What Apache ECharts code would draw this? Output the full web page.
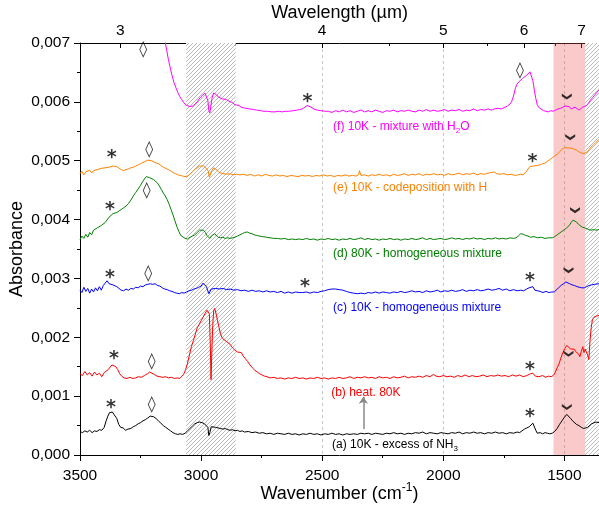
<!DOCTYPE html>
<html><head><meta charset="utf-8">
<script src="https://cdn.jsdelivr.net/npm/echarts@6/dist/echarts.min.js"></script>
<style>html,body{margin:0;padding:0;background:#fff}#c{width:599px;height:505px}</style>
</head><body><div id="c"></div>
<script>
// ---------- DATA (absorbance in units of 10^-3) ----------
const wnTicks = [3500, 3000, 2500, 2000, 1500];
const wnMinorTicks = [3250, 2750, 2250, 1750];
const wavelengthTicks = [3, 4, 5, 6, 7];          // µm
const wavelengthMinorTicks = [3.5, 4.5, 5.5, 6.5]; // µm
const yTicks = [0, 1, 2, 3, 4, 5, 6, 7];

const specA = [[3500,0.40],[3490,0.38],[3480,0.41],[3470,0.39],[3460,0.42],[3450,0.38],[3440,0.41],[3430,0.40],[3420,0.43],[3410,0.42],[3400,0.47],[3392,0.58],[3385,0.66],[3378,0.72],[3372,0.70],[3366,0.73],[3360,0.69],[3354,0.71],[3348,0.62],[3340,0.52],[3332,0.47],[3322,0.46],[3312,0.42],[3302,0.44],[3290,0.45],[3280,0.48],[3270,0.50],[3260,0.53],[3250,0.55],[3240,0.58],[3230,0.60],[3220,0.63],[3210,0.66],[3204,0.68],[3196,0.65],[3186,0.62],[3176,0.58],[3166,0.54],[3156,0.50],[3146,0.47],[3136,0.44],[3126,0.41],[3116,0.38],[3106,0.36],[3096,0.35],[3086,0.36],[3076,0.35],[3066,0.37],[3056,0.41],[3046,0.45],[3036,0.49],[3026,0.53],[3016,0.55],[3006,0.56],[2996,0.55],[2986,0.53],[2978,0.51],[2972,0.47],[2968,0.33],[2964,0.38],[2958,0.48],[2950,0.50],[2940,0.47],[2930,0.46],[2920,0.45],[2910,0.44],[2900,0.45],[2890,0.43],[2880,0.42],[2870,0.43],[2860,0.41],[2850,0.42],[2840,0.40],[2830,0.41],[2820,0.39],[2805,0.40],[2790,0.38],[2775,0.39],[2760,0.37],[2745,0.38],[2730,0.36],[2715,0.37],[2700,0.35],[2685,0.37],[2670,0.36],[2655,0.35],[2640,0.37],[2625,0.35],[2610,0.36],[2595,0.34],[2580,0.36],[2565,0.35],[2550,0.37],[2535,0.35],[2520,0.36],[2505,0.34],[2490,0.36],[2475,0.35],[2460,0.37],[2445,0.35],[2430,0.36],[2415,0.34],[2400,0.36],[2385,0.35],[2370,0.36],[2355,0.35],[2340,0.37],[2325,0.36],[2310,0.37],[2295,0.35],[2280,0.37],[2265,0.36],[2250,0.35],[2235,0.37],[2220,0.36],[2205,0.38],[2190,0.36],[2175,0.37],[2160,0.35],[2145,0.37],[2130,0.36],[2115,0.38],[2100,0.37],[2085,0.39],[2070,0.36],[2055,0.38],[2040,0.37],[2025,0.36],[2010,0.38],[1995,0.37],[1980,0.36],[1965,0.38],[1950,0.37],[1935,0.39],[1920,0.36],[1905,0.38],[1890,0.37],[1875,0.39],[1860,0.37],[1845,0.38],[1830,0.36],[1815,0.38],[1800,0.37],[1785,0.39],[1770,0.37],[1755,0.38],[1740,0.36],[1725,0.38],[1710,0.37],[1695,0.39],[1685,0.38],[1675,0.41],[1665,0.44],[1655,0.46],[1645,0.48],[1637,0.50],[1630,0.54],[1624,0.52],[1618,0.42],[1612,0.37],[1600,0.38],[1590,0.36],[1580,0.38],[1570,0.37],[1560,0.36],[1550,0.37],[1540,0.40],[1530,0.45],[1520,0.52],[1510,0.58],[1500,0.64],[1490,0.69],[1482,0.67],[1474,0.62],[1466,0.58],[1458,0.55],[1450,0.52],[1440,0.50],[1430,0.47],[1420,0.45],[1412,0.44],[1404,0.47],[1396,0.50],[1388,0.53],[1380,0.55],[1370,0.56],[1357,0.55]];

const specB = [[3500,1.38],[3490,1.35],[3480,1.42],[3470,1.36],[3460,1.40],[3450,1.34],[3440,1.41],[3430,1.36],[3420,1.39],[3410,1.33],[3400,1.40],[3392,1.37],[3384,1.45],[3376,1.48],[3368,1.53],[3360,1.55],[3352,1.50],[3344,1.45],[3336,1.38],[3328,1.34],[3318,1.31],[3306,1.30],[3294,1.32],[3282,1.30],[3270,1.31],[3258,1.33],[3246,1.32],[3234,1.35],[3222,1.38],[3212,1.41],[3204,1.40],[3194,1.37],[3182,1.34],[3170,1.33],[3158,1.32],[3146,1.33],[3134,1.31],[3122,1.32],[3110,1.30],[3098,1.31],[3088,1.30],[3080,1.33],[3072,1.37],[3064,1.45],[3056,1.56],[3048,1.70],[3040,1.84],[3032,1.94],[3024,2.05],[3016,2.16],[3008,2.22],[3000,2.28],[2992,2.34],[2984,2.40],[2976,2.46],[2970,2.49],[2966,2.40],[2962,1.90],[2959,1.28],[2956,1.70],[2952,2.20],[2948,2.45],[2944,2.49],[2938,2.40],[2932,2.28],[2926,2.17],[2920,2.06],[2912,1.98],[2904,1.95],[2896,1.93],[2888,1.91],[2880,1.88],[2870,1.82],[2860,1.78],[2850,1.75],[2842,1.76],[2834,1.74],[2826,1.68],[2818,1.64],[2808,1.59],[2798,1.53],[2788,1.48],[2778,1.44],[2768,1.41],[2758,1.38],[2748,1.36],[2738,1.34],[2728,1.33],[2715,1.31],[2700,1.32],[2685,1.30],[2670,1.31],[2655,1.29],[2640,1.31],[2625,1.30],[2610,1.32],[2595,1.30],[2580,1.31],[2565,1.29],[2550,1.31],[2535,1.30],[2520,1.32],[2505,1.30],[2490,1.31],[2475,1.29],[2460,1.31],[2445,1.30],[2430,1.32],[2415,1.30],[2400,1.31],[2385,1.33],[2370,1.30],[2355,1.32],[2340,1.31],[2325,1.33],[2310,1.31],[2295,1.32],[2280,1.30],[2265,1.33],[2250,1.31],[2235,1.32],[2220,1.30],[2205,1.33],[2190,1.31],[2175,1.32],[2160,1.34],[2145,1.31],[2130,1.33],[2115,1.32],[2100,1.34],[2085,1.32],[2070,1.35],[2055,1.33],[2040,1.37],[2030,1.34],[2015,1.33],[2000,1.35],[1985,1.33],[1970,1.34],[1955,1.32],[1940,1.35],[1925,1.33],[1910,1.36],[1895,1.33],[1880,1.35],[1865,1.33],[1850,1.34],[1835,1.36],[1820,1.33],[1805,1.35],[1790,1.34],[1775,1.36],[1760,1.34],[1745,1.35],[1730,1.33],[1715,1.36],[1700,1.34],[1685,1.36],[1670,1.33],[1655,1.35],[1640,1.38],[1630,1.39],[1620,1.34],[1605,1.33],[1590,1.35],[1578,1.32],[1566,1.34],[1555,1.33],[1546,1.35],[1538,1.40],[1530,1.48],[1522,1.55],[1514,1.65],[1506,1.74],[1498,1.81],[1490,1.86],[1482,1.88],[1474,1.80],[1466,1.77],[1460,1.80],[1454,1.76],[1448,1.79],[1442,1.72],[1436,1.67],[1430,1.76],[1424,1.84],[1419,1.74],[1414,1.80],[1408,1.78],[1404,1.70],[1399,1.62],[1394,1.95],[1389,2.17],[1384,2.30],[1378,2.34],[1368,2.36],[1357,2.37]];

const specC = [[3500,2.80],[3492,2.76],[3484,2.85],[3476,2.78],[3468,2.83],[3460,2.75],[3452,2.82],[3444,2.77],[3436,2.84],[3428,2.79],[3420,2.86],[3412,2.80],[3404,2.88],[3396,2.90],[3388,2.96],[3380,2.91],[3372,2.93],[3364,2.89],[3356,2.92],[3348,2.86],[3340,2.83],[3330,2.80],[3320,2.79],[3310,2.82],[3300,2.80],[3290,2.83],[3280,2.82],[3270,2.85],[3260,2.84],[3250,2.87],[3240,2.86],[3230,2.89],[3220,2.90],[3210,2.91],[3200,2.90],[3190,2.91],[3180,2.88],[3170,2.87],[3160,2.84],[3150,2.82],[3140,2.81],[3130,2.79],[3120,2.78],[3110,2.76],[3100,2.75],[3090,2.74],[3080,2.76],[3070,2.75],[3060,2.77],[3050,2.79],[3040,2.80],[3030,2.82],[3020,2.83],[3010,2.85],[3000,2.87],[2992,2.92],[2986,2.90],[2978,2.86],[2972,2.84],[2968,2.74],[2964,2.73],[2958,2.82],[2950,2.84],[2940,2.83],[2925,2.82],[2910,2.83],[2895,2.81],[2880,2.82],[2865,2.80],[2850,2.81],[2835,2.79],[2820,2.80],[2805,2.78],[2790,2.80],[2775,2.78],[2760,2.79],[2745,2.77],[2730,2.79],[2715,2.77],[2700,2.78],[2685,2.76],[2670,2.78],[2655,2.75],[2640,2.77],[2625,2.75],[2610,2.77],[2595,2.76],[2580,2.76],[2565,2.77],[2550,2.75],[2535,2.77],[2520,2.76],[2505,2.78],[2490,2.79],[2475,2.81],[2460,2.82],[2445,2.82],[2430,2.81],[2415,2.80],[2400,2.78],[2385,2.76],[2370,2.75],[2355,2.74],[2340,2.75],[2325,2.74],[2310,2.76],[2295,2.75],[2280,2.77],[2265,2.75],[2250,2.77],[2235,2.76],[2220,2.75],[2205,2.77],[2190,2.76],[2175,2.78],[2160,2.76],[2145,2.77],[2130,2.79],[2115,2.77],[2100,2.78],[2085,2.76],[2070,2.79],[2055,2.77],[2040,2.78],[2025,2.80],[2010,2.77],[1995,2.79],[1980,2.78],[1965,2.80],[1950,2.78],[1935,2.79],[1920,2.81],[1905,2.78],[1890,2.80],[1875,2.79],[1860,2.81],[1845,2.79],[1830,2.80],[1815,2.82],[1800,2.80],[1785,2.81],[1770,2.83],[1755,2.80],[1740,2.82],[1725,2.79],[1710,2.81],[1695,2.79],[1680,2.80],[1668,2.79],[1656,2.82],[1646,2.84],[1638,2.87],[1630,2.86],[1622,2.80],[1614,2.77],[1600,2.78],[1588,2.76],[1576,2.78],[1564,2.76],[1552,2.77],[1542,2.77],[1534,2.80],[1524,2.84],[1514,2.88],[1504,2.91],[1494,2.94],[1486,2.93],[1478,2.91],[1468,2.89],[1458,2.88],[1448,2.86],[1438,2.85],[1428,2.84],[1418,2.84],[1408,2.86],[1398,2.88],[1388,2.89],[1376,2.90],[1357,2.91]];

const specD = [[3500,3.66],[3492,3.72],[3484,3.68],[3476,3.75],[3468,3.70],[3460,3.78],[3452,3.74],[3444,3.82],[3436,3.79],[3428,3.86],[3420,3.84],[3412,3.90],[3404,3.88],[3396,3.95],[3388,3.98],[3380,4.04],[3372,4.06],[3364,4.10],[3356,4.08],[3348,4.12],[3340,4.14],[3330,4.17],[3320,4.20],[3310,4.23],[3300,4.27],[3290,4.33],[3280,4.40],[3270,4.46],[3260,4.52],[3250,4.58],[3242,4.64],[3234,4.69],[3226,4.73],[3220,4.74],[3212,4.71],[3204,4.69],[3196,4.68],[3188,4.66],[3180,4.62],[3172,4.57],[3164,4.51],[3156,4.45],[3148,4.40],[3140,4.34],[3132,4.26],[3124,4.17],[3116,4.08],[3108,3.98],[3100,3.88],[3092,3.80],[3084,3.73],[3076,3.70],[3066,3.68],[3056,3.67],[3046,3.70],[3036,3.72],[3026,3.74],[3016,3.78],[3006,3.82],[2998,3.83],[2990,3.82],[2982,3.78],[2976,3.73],[2970,3.70],[2964,3.68],[2958,3.72],[2950,3.74],[2944,3.76],[2938,3.73],[2930,3.70],[2920,3.69],[2910,3.70],[2900,3.68],[2890,3.69],[2880,3.68],[2870,3.69],[2860,3.70],[2850,3.72],[2840,3.74],[2830,3.76],[2820,3.78],[2810,3.79],[2800,3.77],[2790,3.76],[2780,3.74],[2770,3.73],[2760,3.72],[2745,3.71],[2730,3.70],[2715,3.69],[2700,3.68],[2685,3.68],[2670,3.67],[2655,3.68],[2640,3.66],[2625,3.67],[2610,3.66],[2595,3.67],[2580,3.66],[2565,3.68],[2550,3.66],[2535,3.67],[2520,3.65],[2505,3.67],[2490,3.66],[2475,3.68],[2460,3.66],[2445,3.67],[2430,3.65],[2415,3.67],[2400,3.66],[2385,3.68],[2370,3.66],[2355,3.67],[2340,3.69],[2325,3.66],[2310,3.68],[2295,3.66],[2280,3.67],[2265,3.65],[2250,3.67],[2235,3.66],[2220,3.68],[2205,3.66],[2190,3.67],[2175,3.65],[2160,3.67],[2145,3.66],[2130,3.68],[2115,3.66],[2100,3.67],[2085,3.69],[2070,3.66],[2055,3.68],[2040,3.66],[2025,3.67],[2010,3.68],[1995,3.66],[1980,3.67],[1965,3.69],[1950,3.67],[1935,3.68],[1920,3.66],[1905,3.68],[1890,3.67],[1875,3.69],[1860,3.67],[1845,3.68],[1830,3.66],[1815,3.68],[1800,3.67],[1785,3.69],[1770,3.67],[1755,3.68],[1740,3.67],[1725,3.69],[1710,3.68],[1700,3.69],[1690,3.72],[1680,3.76],[1670,3.75],[1660,3.73],[1650,3.72],[1640,3.70],[1625,3.71],[1610,3.69],[1595,3.70],[1580,3.68],[1565,3.69],[1550,3.69],[1540,3.71],[1530,3.74],[1520,3.77],[1510,3.80],[1500,3.83],[1490,3.86],[1480,3.90],[1472,3.95],[1464,3.99],[1458,4.00],[1450,3.96],[1442,3.92],[1434,3.89],[1426,3.87],[1418,3.86],[1410,3.85],[1400,3.83],[1390,3.82],[1380,3.83],[1370,3.82],[1357,3.83]];

const specE = [[3500,4.78],[3492,4.82],[3484,4.76],[3476,4.81],[3468,4.78],[3460,4.84],[3452,4.79],[3444,4.83],[3436,4.80],[3428,4.85],[3420,4.83],[3412,4.87],[3404,4.85],[3396,4.88],[3388,4.90],[3380,4.89],[3372,4.92],[3364,4.91],[3356,4.92],[3348,4.90],[3340,4.87],[3330,4.85],[3320,4.83],[3310,4.85],[3300,4.86],[3290,4.88],[3280,4.89],[3270,4.91],[3260,4.93],[3250,4.95],[3240,4.97],[3230,4.99],[3220,5.01],[3212,5.02],[3204,5.00],[3196,4.98],[3186,4.96],[3176,4.95],[3166,4.92],[3156,4.89],[3146,4.87],[3136,4.85],[3126,4.83],[3116,4.80],[3106,4.78],[3096,4.76],[3086,4.75],[3076,4.74],[3066,4.73],[3056,4.74],[3046,4.77],[3036,4.81],[3026,4.85],[3016,4.88],[3006,4.91],[2998,4.92],[2990,4.91],[2982,4.88],[2976,4.86],[2970,4.82],[2966,4.72],[2962,4.75],[2956,4.83],[2948,4.88],[2942,4.89],[2934,4.84],[2926,4.80],[2918,4.79],[2908,4.78],[2896,4.77],[2882,4.78],[2868,4.76],[2854,4.77],[2840,4.76],[2825,4.77],[2810,4.75],[2795,4.77],[2780,4.74],[2765,4.76],[2750,4.74],[2735,4.77],[2720,4.75],[2705,4.74],[2690,4.76],[2675,4.74],[2660,4.75],[2645,4.73],[2630,4.75],[2615,4.74],[2600,4.73],[2585,4.75],[2570,4.74],[2555,4.75],[2540,4.73],[2525,4.75],[2510,4.74],[2495,4.76],[2480,4.74],[2465,4.75],[2450,4.73],[2435,4.75],[2420,4.74],[2405,4.76],[2390,4.74],[2375,4.75],[2360,4.74],[2350,4.76],[2346,4.83],[2340,4.75],[2325,4.76],[2310,4.74],[2295,4.76],[2280,4.75],[2265,4.77],[2250,4.75],[2235,4.76],[2220,4.74],[2205,4.77],[2190,4.75],[2175,4.76],[2160,4.78],[2145,4.75],[2130,4.77],[2115,4.76],[2100,4.78],[2085,4.75],[2070,4.77],[2055,4.76],[2040,4.78],[2025,4.76],[2010,4.77],[1995,4.75],[1980,4.78],[1965,4.76],[1950,4.77],[1935,4.79],[1920,4.76],[1905,4.78],[1890,4.77],[1875,4.79],[1860,4.76],[1845,4.78],[1830,4.77],[1815,4.79],[1800,4.80],[1790,4.81],[1780,4.78],[1765,4.77],[1750,4.78],[1735,4.76],[1720,4.77],[1705,4.75],[1690,4.76],[1680,4.77],[1670,4.76],[1660,4.80],[1650,4.86],[1642,4.90],[1635,4.89],[1628,4.91],[1620,4.90],[1610,4.92],[1600,4.93],[1590,4.95],[1580,4.96],[1570,4.99],[1560,5.02],[1550,5.05],[1540,5.08],[1530,5.11],[1520,5.15],[1510,5.19],[1500,5.22],[1492,5.23],[1484,5.22],[1476,5.20],[1468,5.21],[1460,5.19],[1450,5.18],[1440,5.15],[1430,5.13],[1420,5.12],[1414,5.10],[1406,5.15],[1398,5.19],[1390,5.23],[1380,5.27],[1370,5.31],[1357,5.36]];

const specF = [[3160,7.30],[3150,7.05],[3142,6.88],[3135,6.72],[3128,6.59],[3120,6.45],[3112,6.33],[3104,6.24],[3096,6.16],[3088,6.09],[3080,6.04],[3072,5.99],[3064,5.95],[3056,5.92],[3048,5.92],[3040,5.93],[3032,5.93],[3024,5.96],[3016,6.00],[3008,6.05],[3000,6.09],[2992,6.12],[2984,6.15],[2978,6.12],[2972,6.02],[2968,5.85],[2964,5.81],[2960,5.92],[2954,6.08],[2948,6.15],[2942,6.17],[2936,6.12],[2928,6.08],[2920,6.06],[2912,6.05],[2904,6.03],[2896,6.04],[2888,6.01],[2880,6.00],[2870,5.99],[2860,5.95],[2852,5.93],[2844,5.94],[2835,5.91],[2825,5.90],[2815,5.89],[2800,5.88],[2785,5.87],[2770,5.86],[2755,5.85],[2740,5.84],[2725,5.84],[2710,5.83],[2695,5.83],[2680,5.84],[2665,5.83],[2650,5.84],[2635,5.84],[2620,5.85],[2605,5.86],[2590,5.87],[2578,5.89],[2570,5.92],[2562,5.94],[2554,5.93],[2546,5.91],[2538,5.89],[2530,5.87],[2520,5.86],[2505,5.85],[2490,5.84],[2475,5.84],[2460,5.82],[2445,5.85],[2430,5.83],[2415,5.86],[2400,5.83],[2385,5.85],[2370,5.82],[2355,5.84],[2340,5.86],[2325,5.83],[2310,5.85],[2295,5.83],[2280,5.86],[2265,5.84],[2250,5.82],[2235,5.85],[2220,5.84],[2205,5.86],[2190,5.83],[2175,5.85],[2160,5.84],[2145,5.86],[2130,5.84],[2115,5.83],[2100,5.86],[2085,5.84],[2070,5.87],[2055,5.84],[2040,5.86],[2025,5.84],[2010,5.85],[1995,5.87],[1980,5.84],[1965,5.86],[1950,5.85],[1935,5.87],[1920,5.84],[1905,5.86],[1890,5.85],[1875,5.88],[1860,5.85],[1845,5.87],[1830,5.86],[1815,5.88],[1800,5.86],[1790,5.88],[1775,5.89],[1760,5.88],[1745,5.91],[1735,5.93],[1725,5.96],[1718,6.00],[1710,6.10],[1703,6.22],[1696,6.30],[1688,6.34],[1680,6.37],[1672,6.40],[1664,6.43],[1656,6.45],[1648,6.48],[1642,6.51],[1636,6.48],[1630,6.36],[1624,6.20],[1618,6.06],[1612,5.95],[1604,5.90],[1596,5.87],[1586,5.85],[1576,5.84],[1566,5.83],[1556,5.85],[1546,5.84],[1536,5.86],[1526,5.88],[1516,5.89],[1506,5.91],[1496,5.93],[1488,5.96],[1480,5.92],[1472,5.88],[1464,5.90],[1456,5.91],[1448,5.89],[1440,5.86],[1432,5.89],[1424,5.91],[1416,5.90],[1408,5.94],[1400,5.98],[1392,6.03],[1384,6.07],[1376,6.11],[1366,6.16],[1357,6.20]];

// curve labels: [wavenumber, absorbance(10^-3)] of the label's left-middle point
const curveLabels = [
  {text: '(f) 10K - mixture with H{sub|2}O', pos: [2455, 5.57], color: '#FF00FF'},
  {text: '(e) 10K - codeposition with H',   pos: [2455, 4.545], color: '#FF8000'},
  {text: '(d) 80K - homogeneous mixture',   pos: [2455, 3.42], color: '#008000'},
  {text: '(c) 10K - homogeneous mixture',   pos: [2455, 2.51], color: '#0000FF'},
  {text: '(b) heat. 80K',                   pos: [2463, 1.065], color: '#FF0000'},
  {text: '(a) 10K - excess of NH{sub|3}',   pos: [2459, 0.18], color: '#000000'}
];
const starMarks = [[3372,0.845],[1642,0.70],[3360,1.68],[1642,1.50],[3376,3.05],[2571,2.91],[1642,3.00],[3376,4.21],[3369,5.09],[1632,5.02],[2561,6.04]];
const diamondMarks = [[3204,0.845],[3204,1.58],[3218,3.07],[3225,4.49],[3214,5.19],[3239,6.89],[1683,6.52]];
const chevronMarks = [[1490,0.815],[1483,1.72],[1483,3.14],[1456,4.16],[1476,5.40],[1490,6.09]];
const arrowFromTo = [[2330, 0.44], [2330, 0.99]];
const hatchRegions = [[3062, 2857], [1414, 1357]];
const pinkRegion = [1545, 1414];
const xMin = 1357, xMax = 3500;

// ---------- CHART ----------
function hatchPattern() {
  const s = 4;
  const c = document.createElement('canvas'); c.width = s; c.height = s;
  const g = c.getContext('2d');
  g.fillStyle = '#fff'; g.fillRect(0, 0, s, s);
  g.strokeStyle = '#a8a8a8'; g.lineWidth = 0.8;
  g.beginPath();
  g.moveTo(0, s); g.lineTo(s, 0);
  g.moveTo(-1, 1); g.lineTo(1, -1);
  g.moveTo(s - 1, s + 1); g.lineTo(s + 1, s - 1);
  g.stroke();
  return c;
}
const FONT = 'Liberation Sans';
const chart = echarts.init(document.getElementById('c'), null, {renderer: 'canvas'});
function lineSeries(name, data, color, label, extra) {
  return Object.assign({
    name, type: 'line', data, xAxisIndex: 0, yAxisIndex: 0,
    showSymbol: false, symbol: 'none', clip: true, z: 3,
    lineStyle: {color, width: 1},
    markPoint: {
      silent: true, symbol: 'circle', symbolSize: 0,
      data: [{coord: label.pos, value: 0}],
      label: {
        show: true, position: 'right', distance: 0, formatter: label.text,
        color: label.color, fontSize: 12, fontFamily: FONT, lineHeight: 16,
        rich: {sub: {fontSize: 8, lineHeight: 8, verticalAlign: 'bottom', color: label.color, fontFamily: FONT}}
      }
    }
  }, extra || {});
}
const hatch = hatchPattern();
const option = {
  animation: false,
  backgroundColor: '#fff',
  textStyle: {fontFamily: FONT},
  grid: {left: 80, right: 0, top: 43, bottom: 50, containLabel: false, outerBoundsMode: 'none'},
  xAxis: [
    {
      type: 'value', position: 'bottom', min: xMin, max: xMax, inverse: true,
      axisLine: {show: true, lineStyle: {color: '#000'}},
      axisTick: {show: true, customValues: wnTicks, length: 6, lineStyle: {color: '#000'}},
      axisLabel: {customValues: wnTicks, formatter: v => String(v), fontSize: 15.5, color: '#000', margin: 13, fontFamily: FONT},
      splitLine: {show: true, lineStyle: {color: '#c8c8c8', type: [3, 3], width: 1}},
      name: 'Wavenumber (cm{sup|-1})', nameLocation: 'middle', nameGap: 27, nameMoveOverlap: false,
      nameTextStyle: {fontSize: 18, color: '#000', fontFamily: FONT, lineHeight: 24,
        rich: {sup: {fontSize: 12, lineHeight: 16, verticalAlign: 'top', color: '#000', fontFamily: FONT}}}
    },
    {
      type: 'value', position: 'bottom', min: xMin, max: xMax, inverse: true,
      axisLine: {show: false},
      axisTick: {show: true, customValues: wnMinorTicks, length: 3, lineStyle: {color: '#000'}},
      axisLabel: {show: false}, splitLine: {show: false}
    },
    {
      type: 'value', position: 'top', min: xMin, max: xMax, inverse: true,
      axisLine: {show: true, lineStyle: {color: '#000'}},
      axisTick: {show: true, inside: true, customValues: wavelengthTicks.map(l => 10000 / l), length: 5, lineStyle: {color: '#000'}},
      axisLabel: {customValues: wavelengthTicks.map(l => 10000 / l), formatter: v => String(Math.round(10000 / v)),
        fontSize: 15.5, color: '#000', margin: 4, fontFamily: FONT},
      splitLine: {show: false},
      name: 'Wavelength (µm)', nameLocation: 'middle', nameGap: 21, nameMoveOverlap: false,
      nameTextStyle: {fontSize: 18, color: '#000', fontFamily: FONT}
    },
    {
      type: 'value', position: 'top', min: xMin, max: xMax, inverse: true,
      axisLine: {show: false},
      axisTick: {show: true, inside: true, customValues: wavelengthMinorTicks.map(l => 10000 / l), length: 3, lineStyle: {color: '#000'}},
      axisLabel: {show: false}, splitLine: {show: false}
    }
  ],
  yAxis: [
    {
      type: 'value', position: 'left', min: 0, max: 7, interval: 1,
      axisLine: {show: true, lineStyle: {color: '#000'}},
      axisTick: {show: true, length: 6, lineStyle: {color: '#000'}},
      minorTick: {show: true, splitNumber: 2, length: 3, lineStyle: {color: '#000'}},
      axisLabel: {formatter: v => (v / 1000).toFixed(3).replace('.', ','), fontSize: 15.5, color: '#000', margin: 10, fontFamily: FONT},
      splitLine: {show: false},
      name: 'Absorbance', nameLocation: 'middle', nameGap: 54, nameMoveOverlap: false,
      nameTextStyle: {fontSize: 18, color: '#000', fontFamily: FONT}
    },
    {
      type: 'value', position: 'right', min: 0, max: 7, interval: 1,
      axisLine: {show: true, lineStyle: {color: '#000'}},
      axisTick: {show: true, inside: true, length: 5, lineStyle: {color: '#000'}},
      minorTick: {show: true, splitNumber: 2, length: 3, lineStyle: {color: '#000'}},
      axisLabel: {show: false}, splitLine: {show: false}
    }
  ],
  series: [
    lineSeries('a', specA, '#000000', curveLabels[5], {
      markArea: {
        silent: true,
        data: [
          [{xAxis: hatchRegions[0][0], itemStyle: {color: {image: hatch, repeat: 'repeat'}}}, {xAxis: hatchRegions[0][1]}],
          [{xAxis: pinkRegion[0], itemStyle: {color: 'rgba(240,80,80,0.3)'}}, {xAxis: pinkRegion[1]}],
          [{xAxis: hatchRegions[1][0], itemStyle: {color: {image: hatch, repeat: 'repeat'}}}, {xAxis: hatchRegions[1][1]}]
        ]
      },
      markLine: {
        silent: true, symbol: ['none', 'arrow'], symbolSize: 7,
        label: {show: false},
        lineStyle: {color: '#888', width: 1.5, type: 'solid'},
        data: [[{coord: arrowFromTo[0]}, {coord: arrowFromTo[1]}]]
      }
    }),
    lineSeries('b', specB, '#FF0000', curveLabels[4]),
    lineSeries('c', specC, '#0000FF', curveLabels[3]),
    lineSeries('d', specD, '#008000', curveLabels[2]),
    lineSeries('e', specE, '#FF8000', curveLabels[1]),
    lineSeries('f', specF, '#FF00FF', curveLabels[0]),
    {
      type: 'scatter', data: starMarks, symbolSize: 2, itemStyle: {color: 'rgba(0,0,0,0)'}, z: 5, silent: true,
      label: {show: true, position: 'inside', formatter: '*', fontSize: 19, fontWeight: 'bold', fontFamily: 'DejaVu Sans', color: '#000', offset: [0, 3]}
    },
    {
      type: 'scatter', data: diamondMarks, symbolSize: 2, itemStyle: {color: 'rgba(0,0,0,0)'}, z: 5, silent: true,
      label: {show: true, position: 'inside', formatter: '\u25CA', fontSize: 16, fontFamily: 'DejaVu Sans', color: '#000'}
    },
    {
      type: 'scatter', data: chevronMarks, z: 5, silent: true,
      symbol: 'path://M0,0L5,4L10,0L10,3L5,7L0,3Z', symbolSize: [10, 6],
      itemStyle: {color: '#000'}
    }
  ]
};
chart.setOption(option);
</script></body></html>
